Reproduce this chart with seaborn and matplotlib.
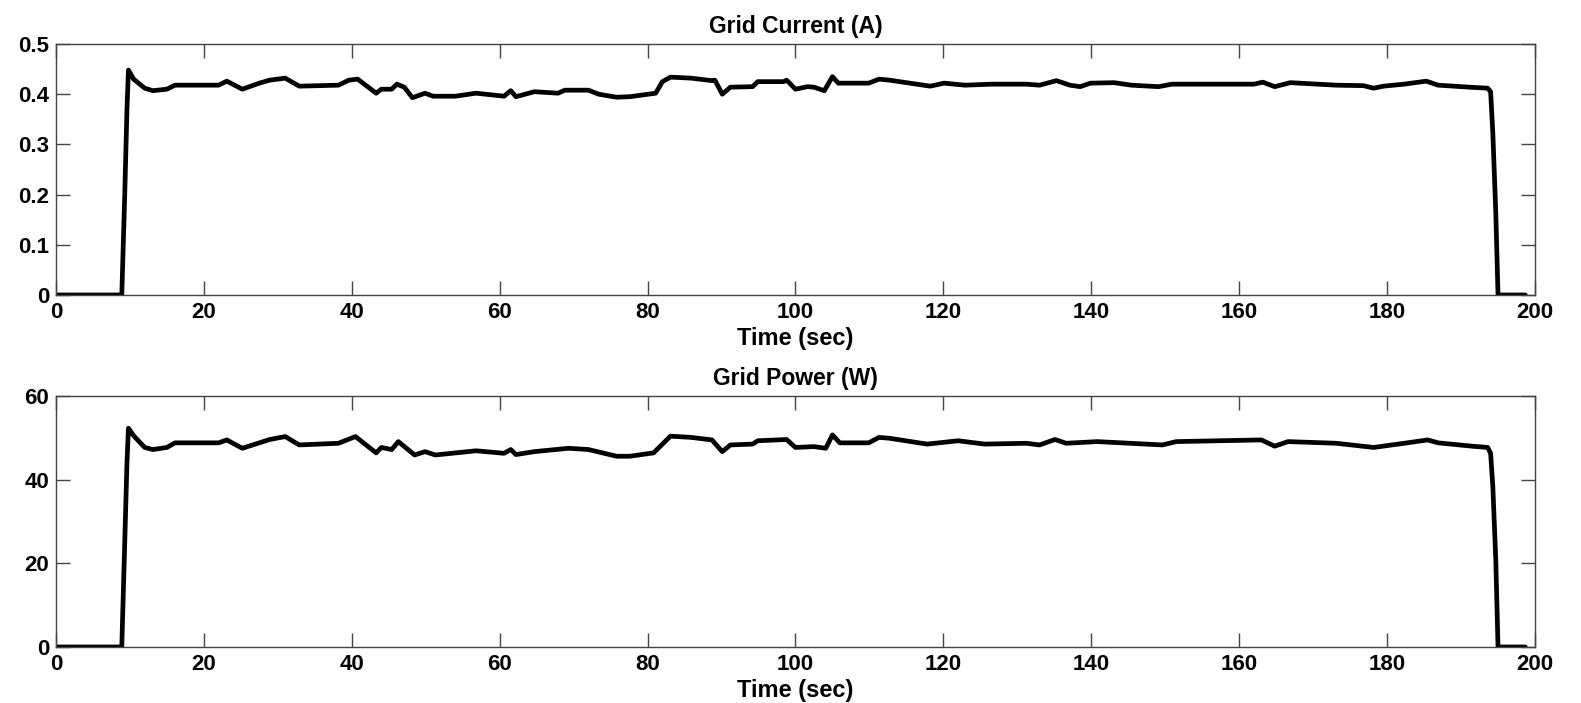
import numpy as np
import pandas as pd
import matplotlib
matplotlib.use("Agg")
import matplotlib.pyplot as plt
import seaborn as sns

# ---- data ----
time_current = [0, 8.9, 9.3, 9.6, 9.8, 10.5, 12.0, 13.1, 15.0, 16.1, 22.0, 23.1, 25.2, 27.5, 28.9,
                31.0, 32.9, 38.2, 39.6, 40.8, 43.3, 44.0, 45.4, 46.1, 47.1, 48.2, 49.9, 51.0,
                54.0, 56.8, 60.6, 61.5, 62.2, 64.7, 67.9, 68.8, 72.0, 73.4, 75.8, 77.6, 81.1,
                82.0, 83.1, 85.9, 88.7, 89.1, 90.1, 91.2, 94.2, 94.9, 98.4, 98.8, 100.0, 101.6,
                102.5, 103.9, 105.0, 105.8, 109.9, 111.3, 112.7, 117.3, 118.2, 120.1, 122.9,
                126.6, 131.2, 133.0, 135.3, 137.1, 138.5, 139.9, 143.1, 145.4, 149.1, 150.9,
                162.0, 163.2, 164.8, 166.9, 173.1, 176.8, 178.2, 179.5, 182.3, 185.3, 186.9,
                191.1, 193.6, 194.0, 194.3, 194.7, 195.0, 198.7]
current = [0, 0, 0.20, 0.37, 0.448, 0.43, 0.412, 0.407, 0.410, 0.418, 0.418, 0.426, 0.410, 0.422, 0.428,
           0.432, 0.416, 0.418, 0.428, 0.430, 0.402, 0.410, 0.410, 0.420, 0.414, 0.393, 0.402, 0.396,
           0.396, 0.402, 0.396, 0.407, 0.395, 0.405, 0.402, 0.408, 0.408, 0.400, 0.394, 0.395, 0.402,
           0.425, 0.434, 0.432, 0.427, 0.428, 0.400, 0.414, 0.415, 0.425, 0.425, 0.428, 0.410, 0.415,
           0.414, 0.407, 0.435, 0.422, 0.422, 0.430, 0.428, 0.418, 0.416, 0.422, 0.418,
           0.420, 0.420, 0.418, 0.427, 0.418, 0.415, 0.422, 0.423, 0.418, 0.415, 0.420,
           0.420, 0.424, 0.415, 0.423, 0.418, 0.417, 0.412, 0.416, 0.420, 0.426, 0.418,
           0.414, 0.412, 0.405, 0.322, 0.163, 0.0, 0.0]

time_power = [0, 8.9, 9.3, 9.6, 9.8, 10.5, 12.0, 13.1, 15.0, 16.1, 22.0, 23.1, 25.2, 28.9,
              31.0, 32.9, 38.2, 40.5, 43.3, 44.0, 45.4, 46.3, 48.5, 49.9, 51.3, 56.8, 60.6,
              61.5, 62.2, 64.7, 69.3, 72.0, 75.8, 77.6, 80.8, 83.1, 85.9, 88.7, 90.1, 91.2,
              94.2, 94.9, 98.8, 100.0, 102.5, 104.1, 105.0, 106.0, 109.9, 111.3, 112.7,
              117.8, 122.0, 125.6, 131.2, 133.0, 135.1, 136.6, 140.8, 149.6, 151.5, 163.0,
              164.8, 166.6, 173.1, 178.2, 182.3, 185.5, 186.9, 191.5, 193.6, 194.0, 194.3,
              194.7, 195.0, 198.7]
power = [0, 0, 25.0, 44.0, 52.3, 50.5, 47.7, 47.2, 47.7, 48.8, 48.8, 49.5, 47.5, 49.6,
         50.3, 48.3, 48.7, 50.3, 46.4, 47.7, 47.2, 49.1, 45.9, 46.7, 45.9, 46.9, 46.3,
         47.2, 46.0, 46.7, 47.5, 47.2, 45.6, 45.6, 46.4, 50.4, 50.1, 49.5, 46.7, 48.3,
         48.5, 49.3, 49.6, 47.7, 47.9, 47.5, 50.7, 48.8, 48.8, 50.1, 49.9,
         48.5, 49.3, 48.5, 48.7, 48.3, 49.6, 48.7, 49.1, 48.3, 49.1, 49.5,
         48.0, 49.1, 48.7, 47.7, 48.7, 49.5, 48.8, 48.0, 47.7, 46.3, 38.3,
         20.7, 0.0, 0.0]

titles = ["Grid Current (A)", "Grid Power (W)"]
x_label = "Time (sec)"
x_ticks = [0, 20, 40, 60, 80, 100, 120, 140, 160, 180, 200]
y_ticks_current = [0, 0.1, 0.2, 0.3, 0.4, 0.5]
y_tick_labels_current = ["0", "0.1", "0.2", "0.3", "0.4", "0.5"]
y_ticks_power = [0, 20, 40, 60]

sns.set_theme(style="white")
plt.rcParams["font.family"] = ["Liberation Sans", "DejaVu Sans"]
plt.rcParams["font.weight"] = "bold"
plt.rcParams["text.color"] = "black"
plt.rcParams["axes.labelcolor"] = "black"

fig = plt.figure(figsize=(15.81, 7.03), dpi=100)
ax1 = fig.add_axes([0.0354, 0.5804, 0.9355, 0.357])
ax2 = fig.add_axes([0.0354, 0.0797, 0.9355, 0.357])

df_c = pd.DataFrame({"t": time_current, "v": current})
df_p = pd.DataFrame({"t": time_power, "v": power})

for ax, df, title, yt, ylim in [
    (ax1, df_c, titles[0], y_ticks_current, (0, 0.5)),
    (ax2, df_p, titles[1], y_ticks_power, (0, 60)),
]:
    sns.lineplot(data=df, x="t", y="v", ax=ax, color="black", linewidth=3.4,
                 estimator=None, sort=False)
    ax.set_xlim(0, 200)
    ax.set_ylim(*ylim)
    ax.set_xticks(x_ticks)
    ax.set_yticks(yt)
    ax.set_title(title, fontsize=16.5, fontweight="bold", pad=8, color="black")
    ax.set_xlabel(x_label, fontsize=17, fontweight="bold", labelpad=3, color="black")
    ax.set_ylabel("")
    ax.tick_params(direction="in", length=10, width=1, colors="#444444",
                   labelcolor="black", labelsize=16, top=True, right=True,
                   bottom=True, left=True, pad=5)
    for lab in ax.get_xticklabels() + ax.get_yticklabels():
        lab.set_fontweight("bold")
    for s in ax.spines.values():
        s.set_color("#444444")
        s.set_linewidth(1.0)
        s.set_visible(True)

ax1.set_yticklabels(y_tick_labels_current, fontweight="bold")

fig.savefig("out.png", dpi=100, facecolor="white")
